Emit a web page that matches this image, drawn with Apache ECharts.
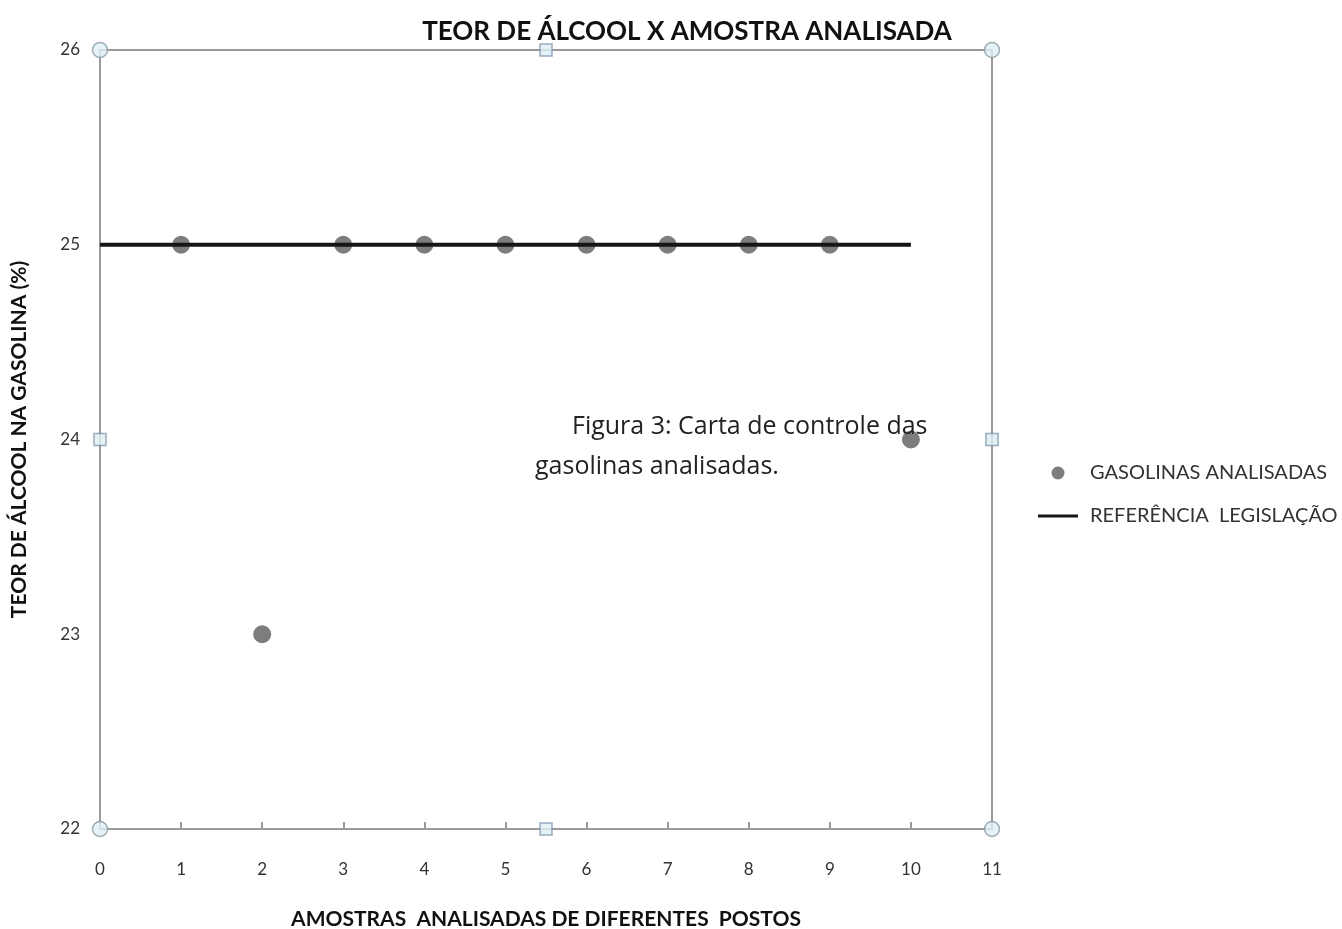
<!DOCTYPE html>
<html>
<head>
<meta charset="utf-8">
<script src="https://cdn.jsdelivr.net/npm/echarts@6/dist/echarts.min.js"></script>
<style>
  html, body { margin: 0; padding: 0; background: #fff; }
  #chart { width: 1342px; height: 929px; }
</style>
</head>
<body>
<div id="chart"></div>
<script>
// amostras e teores
const amostras = [1, 2, 3, 4, 5, 6, 7, 8, 9, 10]
const teores = [25, 23, 25, 25, 25, 25, 25, 25, 25, 24]
// linha da legislacao
const refX = [0, 10]
const refY = [25, 25]
// alcas de selecao do grafico (Excel)
const cantos = [[0, 26], [11, 26], [0, 22], [11, 22]]
const meios = [[5.5, 26], [5.5, 22], [0, 24], [11, 24]]

const font = 'Lato'
const myCharts = echarts.init(document.getElementById('chart'))
const option = {
    animation: false,
    title: {
        text: 'TEOR DE ÁLCOOL X AMOSTRA ANALISADA',
        left: 682, top: 14, textAlign: 'center',
        textStyle: { fontFamily: font, fontSize: 26, fontWeight: 'bold', color: '#111' }
    },
    legend: {
        orient: 'vertical', left: 1033, top: 458, itemGap: 23,
        itemWidth: 40, itemHeight: 13,
        data: [
            { name: 'GASOLINAS ANALISADAS', icon: 'circle' },
            { name: 'REFERÊNCIA  LEGISLAÇÃO', icon: 'path://M0,0H40V3H0Z' }
        ],
        textStyle: { fontFamily: font, fontSize: 20, color: '#333', padding: [0, 0, 0, 7] }
    },
    grid: {
        left: 100, right: 350, top: 50, bottom: 100,
        outerBoundsMode: 'none',
        show: true, borderColor: '#9a9a9a', borderWidth: 2
    },
    xAxis: {
        type: 'value', min: 0, max: 11, interval: 1,
        name: 'AMOSTRAS  ANALISADAS DE DIFERENTES  POSTOS',
        nameLocation: 'middle', nameGap: 80,
        nameTextStyle: { fontFamily: font, fontSize: 21, fontWeight: 'bold', color: '#111' },
        axisLine: { lineStyle: { color: '#9a9a9a', width: 2 } },
        axisTick: { inside: true, length: 7, lineStyle: { color: '#9a9a9a', width: 2 } },
        axisLabel: { margin: 32, fontFamily: font, fontSize: 17, color: '#333' },
        splitLine: { show: false }
    },
    yAxis: {
        type: 'value', min: 22, max: 26, interval: 1,
        name: 'TEOR DE ÁLCOOL NA GASOLINA (%)',
        nameLocation: 'middle', nameGap: 70,
        nameTextStyle: { fontFamily: font, fontSize: 21, fontWeight: 'bold', color: '#111' },
        axisLine: { lineStyle: { color: '#9a9a9a', width: 2 } },
        axisTick: { show: false },
        axisLabel: { margin: 20, fontFamily: font, fontSize: 17, color: '#333' },
        splitLine: { show: false }
    },
    graphic: [
        {
            type: 'text', left: 572, top: 414, z: 100,
            style: { text: 'Figura 3: Carta de controle das', fontFamily: 'Open Sans', fontSize: 25, fill: '#222' }
        },
        {
            type: 'text', left: 535, top: 454, z: 100,
            style: { text: 'gasolinas analisadas.', fontFamily: 'Open Sans', fontSize: 25, fill: '#222' }
        }
    ],
    series: [
        {
            name: 'REFERÊNCIA  LEGISLAÇÃO',
            type: 'line',
            data: refX.map((x, i) => [x, refY[i]]),
            symbol: 'none',
            lineStyle: { color: '#161616', width: 4 },
            itemStyle: { color: '#161616' },
            z: 3
        },
        {
            name: 'GASOLINAS ANALISADAS',
            type: 'scatter',
            data: amostras.map((x, i) => [x, teores[i]]),
            symbolSize: 18,
            itemStyle: { color: '#5c5c5c' },
            z: 2
        },
        {
            type: 'scatter', data: cantos, symbol: 'circle', symbolSize: 15,
            itemStyle: { color: '#dff0f5', borderColor: '#8a9aa4', borderWidth: 1.5 },
            silent: true, z: 5
        },
        {
            type: 'scatter', data: meios, symbol: 'rect', symbolSize: 12,
            itemStyle: { color: '#dff0f5', borderColor: '#7f96b0', borderWidth: 1.5 },
            silent: true, z: 5
        }
    ]
}
myCharts.setOption(option)
</script>
</body>
</html>
